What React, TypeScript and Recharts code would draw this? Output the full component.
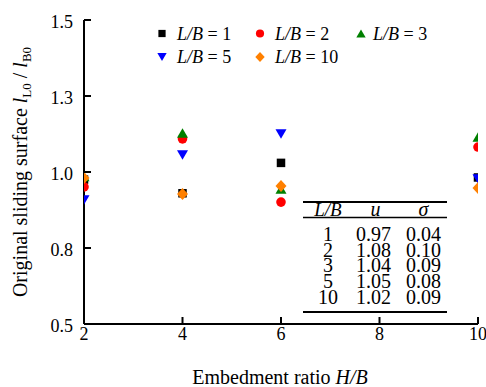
import React from "react";
import { ScatterChart, Scatter, XAxis, YAxis, Customized } from "recharts";

const hbValues = [2, 4, 6, 10];
const seriesLB1 = [0.975, 0.93, 1.03, 0.982];
const seriesLB2 = [0.951, 1.109, 0.901, 1.082];
const seriesLB3 = [0.985, 1.128, 0.944, 1.115];
const seriesLB5 = [0.908, 1.056, 1.125, 0.977];
const seriesLB10 = [0.98, 0.928, 0.954, 0.947];

const xTicks = [2, 4, 6, 8, 10];
const yTicks = [0.5, 0.75, 1.0, 1.25, 1.5];
const yTickLabels = ["0.5", "0.8", "1.0", "1.3", "1.5"];

const legendLabels = ["1", "2", "3", "5", "10"];
const tableLB = ["1", "2", "3", "5", "10"];
const tableU = ["0.97", "1.08", "1.04", "1.05", "1.02"];
const tableSigma = ["0.04", "0.10", "0.09", "0.08", "0.09"];

const FONT = "'Liberation Serif', 'Times New Roman', 'DejaVu Serif', serif";

const toPoints = (ys: number[]) => hbValues.map((x, i) => ({ x, y: ys[i] }));

type ShapeKind = "square" | "circle" | "triUp" | "triDown" | "diamond";

const drawMarker = (kind: ShapeKind, cx: number, cy: number, color: string, scale = 1) => {
  if (kind === "square") {
    const s = 8.5 * scale;
    return <rect x={cx - s / 2} y={cy - s / 2} width={s} height={s} fill={color} />;
  }
  if (kind === "circle") {
    return <circle cx={cx} cy={cy} r={4.8 * scale} fill={color} />;
  }
  if (kind === "triUp") {
    const w = 11 * scale, h = 9.5 * scale;
    return <polygon points={`${cx},${cy - h / 2} ${cx - w / 2},${cy + h / 2} ${cx + w / 2},${cy + h / 2}`} fill={color} />;
  }
  if (kind === "triDown") {
    const w = 11 * scale, h = 9.5 * scale;
    return <polygon points={`${cx - w / 2},${cy - h / 2} ${cx + w / 2},${cy - h / 2} ${cx},${cy + h / 2}`} fill={color} />;
  }
  const w = 11 * scale, h = 12 * scale;
  return <polygon points={`${cx},${cy - h / 2} ${cx + w / 2},${cy} ${cx},${cy + h / 2} ${cx - w / 2},${cy}`} fill={color} />;
};

const series: { data: number[]; kind: ShapeKind; color: string }[] = [
  { data: seriesLB1, kind: "square", color: "#000000" },
  { data: seriesLB2, kind: "circle", color: "#ff0000" },
  { data: seriesLB3, kind: "triUp", color: "#008000" },
  { data: seriesLB5, kind: "triDown", color: "#0000ff" },
  { data: seriesLB10, kind: "diamond", color: "#ff8000" },
];

const XTick = (props: any) => {
  const { x, y, payload } = props;
  return (
    <g>
      <line x1={x} y1={y} x2={x} y2={y - 7} stroke="#000" strokeWidth={2} />
      <text x={x} y={y + 16} textAnchor="middle" fontFamily={FONT} fontSize={18} fill="#000">
        {payload.value}
      </text>
    </g>
  );
};

const YTick = (props: any) => {
  const { x, y, payload, index } = props;
  const idx = yTicks.indexOf(payload.value);
  const label = yTickLabels[idx >= 0 ? idx : index];
  return (
    <g>
      <line x1={x} y1={y} x2={x + 7} y2={y} stroke="#000" strokeWidth={2} />
      <text x={x - 11} y={y + 8} textAnchor="end" fontFamily={FONT} fontSize={18} fill="#000">
        {label}
      </text>
    </g>
  );
};

const Overlay = () => {
  const legendPos = [
    { mx: 162, tx: 177, my: 33.5, ty: 40 },
    { mx: 260, tx: 275, my: 33.5, ty: 40 },
    { mx: 361, tx: 373, my: 33.5, ty: 40 },
    { mx: 162, tx: 177, my: 57, ty: 63 },
    { mx: 260, tx: 275, my: 57, ty: 63 },
  ];
  const colX = [328, 373.5, 423.5];
  return (
    <g>
      {series.map((s, i) => (
        <g key={`lg${i}`}>
          {drawMarker(s.kind, legendPos[i].mx, legendPos[i].my, s.color, 0.85)}
          <text x={legendPos[i].tx} y={legendPos[i].ty} fontFamily={FONT} fontSize={18} fill="#000">
            <tspan fontStyle="italic">L/B</tspan>
            <tspan>{` = ${legendLabels[i]}`}</tspan>
          </text>
        </g>
      ))}
      <text
        transform="translate(27,172) rotate(-90)"
        textAnchor="middle"
        fontFamily={FONT}
        fontSize={20}
        fill="#000"
      >
        <tspan>Original sliding surface </tspan>
        <tspan fontStyle="italic">l</tspan>
        <tspan fontSize={13} dy={4}>L0</tspan>
        <tspan dy={-4}> / </tspan>
        <tspan fontStyle="italic">l</tspan>
        <tspan fontSize={13} dy={4}>B0</tspan>
      </text>
      <text x={280} y={384} textAnchor="middle" fontFamily={FONT} fontSize={20} fill="#000">
        <tspan>Embedment ratio </tspan>
        <tspan fontStyle="italic">H/B</tspan>
      </text>
      <line x1={303} y1={202} x2={447} y2={202} stroke="#000" strokeWidth={2} />
      <line x1={303} y1={217.5} x2={447} y2={217.5} stroke="#000" strokeWidth={1.4} />
      <line x1={303} y1={312} x2={447} y2={312} stroke="#000" strokeWidth={2} />
      <text x={colX[0]} y={215.5} textAnchor="middle" fontFamily={FONT} fontSize={19} fontStyle="italic" fill="#000">L/B</text>
      <text x={colX[1] + 2} y={215.5} textAnchor="middle" fontFamily={FONT} fontSize={20} fontStyle="italic" fill="#000">u</text>
      <text x={colX[2]} y={215.5} textAnchor="middle" fontFamily={FONT} fontSize={20} fontStyle="italic" fill="#000">σ</text>
      {tableLB.map((lb, i) => {
        const y = 241 + i * 15.7;
        return (
          <g key={`row${i}`}>
            <text x={colX[0]} y={y} textAnchor="middle" fontFamily={FONT} fontSize={20} fill="#000">{lb}</text>
            <text x={colX[1]} y={y} textAnchor="middle" fontFamily={FONT} fontSize={20} fill="#000">{tableU[i]}</text>
            <text x={colX[2]} y={y} textAnchor="middle" fontFamily={FONT} fontSize={20} fill="#000">{tableSigma[i]}</text>
          </g>
        );
      })}
    </g>
  );
};

export default function App() {
  return (
    <div style={{ position: "absolute", left: 0, top: 0, width: 486, height: 387, background: "#fff" }}>
      <ScatterChart
        width={486}
        height={387}
        margin={{ top: 20, right: 8, left: 0, bottom: 0 }}
      >
        <XAxis
          type="number"
          dataKey="x"
          domain={[2, 10]}
          ticks={xTicks}
          height={63}
          axisLine={{ stroke: "#000", strokeWidth: 2 }}
          tickLine={false}
          tickSize={0}
          tickMargin={0}
          tick={<XTick />}
          interval={0}
          allowDataOverflow
        />
        <YAxis
          type="number"
          dataKey="y"
          domain={[0.5, 1.5]}
          ticks={yTicks}
          width={84}
          axisLine={{ stroke: "#000", strokeWidth: 2 }}
          tickLine={false}
          tickSize={0}
          tickMargin={0}
          tick={<YTick />}
          interval={0}
          allowDataOverflow
        />
        {series.map((s, i) => (
          <Scatter
            key={`s${i}`}
            data={toPoints(s.data)}
            isAnimationActive={false}
            shape={(p: any) => drawMarker(s.kind, p.cx, p.cy, s.color)}
          />
        ))}
        <Customized component={<Overlay />} />
      </ScatterChart>
    </div>
  );
}
